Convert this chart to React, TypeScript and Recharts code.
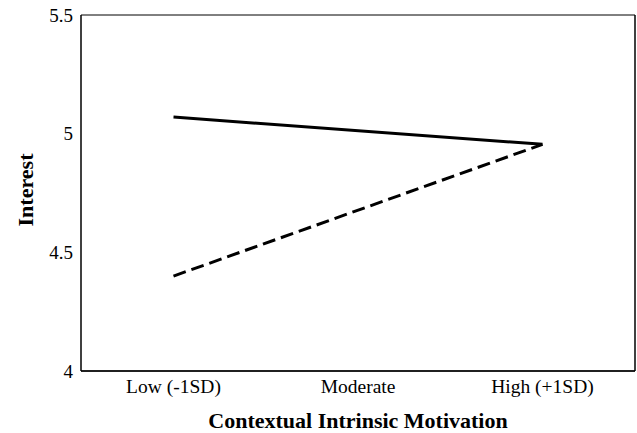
import { LineChart, Line, XAxis, YAxis, CartesianGrid, Label } from "recharts";

// Contextual intrinsic motivation levels (x axis)
const categories = ["Low (-1SD)", "Moderate", "High (+1SD)"];
// Interest values per level; moderate not plotted, line runs low -> high
const solidSeries = [5.07, null, 4.955];
const dashedSeries = [4.4, null, 4.955];
const yTicks = [4, 4.5, 5, 5.5];

const data = categories.map((c, i) => ({
  level: c,
  solid: solidSeries[i],
  dashed: dashedSeries[i],
}));

const FONT = '"Liberation Serif", "Times New Roman", serif';
const tick = { fill: "#000", fontSize: 19, fontFamily: FONT };
const xTick = { fill: "#000", fontSize: 19.5, fontFamily: FONT };

export default function App() {
  return (
    <div style={{ position: "absolute", left: 0, top: 0, background: "#fff" }}>
      <LineChart
        width={637}
        height={433}
        data={data}
        margin={{ top: 15, right: 1, left: 0, bottom: 0 }}
      >
        <CartesianGrid stroke="#000" strokeWidth={1} vertical={false} />
        <XAxis
          dataKey="level"
          height={62}
          tick={xTick}
          tickLine={false}
          axisLine={{ stroke: "#000", strokeWidth: 1.5 }}
          padding={{ left: 92.5, right: 92.5 }}
          interval={0}
        >
          <Label
            value="Contextual Intrinsic Motivation"
            position="insideBottom"
            offset={5}
            style={{ fill: "#000", fontSize: 22, fontWeight: "bold", fontFamily: FONT }}
          />
        </XAxis>
        <YAxis
          yAxisId="l"
          width={81}
          domain={[4, 5.5]}
          ticks={yTicks}
          tick={tick}
          tickLine={false}
          axisLine={{ stroke: "#000", strokeWidth: 1.5 }}
        >
          <Label
            content={({ viewBox }: any) => (
              <text
                x={viewBox.x + 25}
                y={viewBox.y + viewBox.height / 2 - 3}
                transform={`rotate(-90, ${viewBox.x + 25}, ${viewBox.y + viewBox.height / 2 - 3})`}
                textAnchor="middle"
                dominantBaseline="central"
                fill="#000"
                fontSize={22}
                fontWeight="bold"
                fontFamily={FONT}
              >
                Interest
              </text>
            )}
          />
        </YAxis>
        <YAxis
          yAxisId="r"
          orientation="right"
          width={1}
          domain={[4, 5.5]}
          tick={false}
          tickLine={false}
          axisLine={{ stroke: "#000", strokeWidth: 1.5 }}
        />
        <Line
          yAxisId="l"
          dataKey="solid"
          stroke="#000"
          strokeWidth={3}
          dot={false}
          connectNulls
          isAnimationActive={false}
        />
        <Line
          yAxisId="l"
          dataKey="dashed"
          stroke="#000"
          strokeWidth={3}
          strokeDasharray="13 6"
          dot={false}
          connectNulls
          isAnimationActive={false}
        />
      </LineChart>
    </div>
  );
}
